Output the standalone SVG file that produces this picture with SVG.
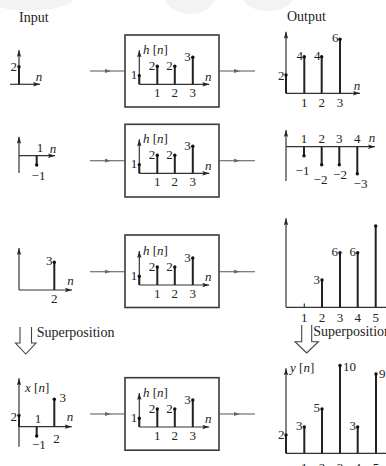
<svg xmlns="http://www.w3.org/2000/svg" xmlns:xlink="http://www.w3.org/1999/xlink" width="386" height="466" viewBox="0 0 386 466">
  <style>
    .bg { fill: #ffffff; }
    .wm { fill: #f3f3f3; }
    .ax { stroke: #333; stroke-width: 1.2; fill: none; }
    .stem { stroke: #222; stroke-width: 2; fill: none; }
    .dot { fill: #111; }
    .box { fill: none; stroke: #3a3a3a; stroke-width: 1.6; }
    .conn { stroke: #555; stroke-width: 1.1; fill: none; }
    .hollow { stroke: #444; stroke-width: 1.1; fill: #fff; }
    text { font-family: "Liberation Serif", "Times New Roman", serif; fill: #222; }
    .t { font-size: 13px; }
    .lab { font-size: 14px; }
    .it { font-style: italic; }
    .m { text-anchor: middle; }
    .e { text-anchor: end; }
  </style>
  <defs>
    <marker id="ah" viewBox="0 0 7 5" refX="7" refY="2.5" markerWidth="7" markerHeight="5" markerUnits="userSpaceOnUse" orient="auto">
      <path d="M0,0.3 L7,2.5 L0,4.7 L1.4,2.5 z" fill="#222"/>
    </marker>
    <marker id="mid" viewBox="0 0 6 5" refX="3" refY="2.5" markerWidth="6" markerHeight="5" markerUnits="userSpaceOnUse" orient="auto">
      <path d="M0,0.6 L6,2.5 L0,4.4 z" fill="#666"/>
    </marker>
    <!-- impulse response h[n] drawn inside each system box -->
    <g id="hplot">
      <line class="ax" x1="0" y1="0" x2="0" y2="-34" marker-end="url(#ah)"/>
      <line class="ax" x1="0" y1="0" x2="70" y2="0" marker-end="url(#ah)"/>
      <path class="stem" d="M0,0V-8.7 M18,0V-18 M35.5,0V-18 M53.5,0V-27"/>
      <circle class="dot" cx="0" cy="-8.7" r="1.7"/>
      <circle class="dot" cx="18" cy="-18" r="1.7"/>
      <circle class="dot" cx="35.5" cy="-18" r="1.7"/>
      <circle class="dot" cx="53.5" cy="-27" r="1.7"/>
      <text class="t e" x="-2" y="-5">1</text>
      <text class="t e" x="16" y="-14.5">2</text>
      <text class="t e" x="33.5" y="-14.5">2</text>
      <text class="t e" x="51.5" y="-23.5">3</text>
      <text class="t m" x="18" y="12.5">1</text>
      <text class="t m" x="35.5" y="12.5">2</text>
      <text class="t m" x="53.5" y="12.5">3</text>
      <text class="t m it" x="69" y="-3.8">n</text>
      <text class="t" x="3.7" y="-30.5"><tspan class="it">h</tspan> [<tspan class="it">n</tspan>]</text>
    </g>
  </defs>

  <rect class="bg" x="0" y="0" width="386" height="466"/>
  <!-- faint background marks along the top edge -->
  <ellipse class="wm" cx="30" cy="-4" rx="45" ry="15"/>
  <ellipse class="wm" cx="190" cy="-10" rx="28" ry="24"/>
  <ellipse class="wm" cx="268" cy="-2" rx="25" ry="13"/>

  <text class="lab" x="19" y="21.5">Input</text>
  <text class="lab" x="287" y="21">Output</text>

  <!-- input sequences -->
  <g id="in1">
    <line class="ax" x1="19" y1="84.3" x2="19" y2="50" marker-end="url(#ah)"/>
    <line class="ax" x1="10" y1="84.3" x2="40" y2="84.3" marker-end="url(#ah)"/>
    <path class="stem" d="M19,84.3V66.7"/>
    <circle class="dot" cx="19" cy="66.7" r="1.7"/>
    <text class="t e" x="17" y="70.5">2</text>
    <text class="t m it" x="39" y="81">n</text>
  </g>
  <g id="in2">
    <line class="ax" x1="19" y1="173" x2="19" y2="136.7" marker-end="url(#ah)"/>
    <line class="ax" x1="19" y1="155.7" x2="55" y2="155.7" marker-end="url(#ah)"/>
    <path class="stem" d="M36.7,155.7V165"/>
    <circle class="dot" cx="36.7" cy="165" r="1.7"/>
    <text class="t m" x="40" y="152">1</text>
    <text class="t m it" x="53" y="152.5">n</text>
    <text class="t m" x="38.5" y="180">−1</text>
  </g>
  <g id="in3">
    <line class="ax" x1="19" y1="290" x2="19" y2="248" marker-end="url(#ah)"/>
    <line class="ax" x1="19" y1="290" x2="72" y2="290" marker-end="url(#ah)"/>
    <path class="stem" d="M54.3,290V262.3"/>
    <circle class="dot" cx="54.3" cy="262.3" r="1.7"/>
    <text class="t e" x="52.5" y="265">3</text>
    <text class="t m it" x="70.5" y="284.5">n</text>
    <text class="t m" x="54.3" y="302.5">2</text>
  </g>
  <g id="in4">
    <line class="ax" x1="19" y1="446.7" x2="19" y2="378.3" marker-end="url(#ah)"/>
    <line class="ax" x1="19" y1="426.7" x2="71.7" y2="426.7" marker-end="url(#ah)"/>
    <path class="stem" d="M19,426.7V415.5 M36.7,426.7V436 M54.3,426.7V399.3"/>
    <circle class="dot" cx="19" cy="415.5" r="1.7"/>
    <circle class="dot" cx="36.7" cy="436" r="1.7"/>
    <circle class="dot" cx="54.3" cy="399.3" r="1.7"/>
    <text class="t" x="25" y="391.5"><tspan class="it">x</tspan> [<tspan class="it">n</tspan>]</text>
    <text class="t e" x="17" y="421">2</text>
    <text class="t" x="59.5" y="402">3</text>
    <text class="t m" x="38" y="422.5">1</text>
    <text class="t m it" x="70" y="420.5">n</text>
    <text class="t m" x="38.8" y="448.5">−1</text>
    <text class="t m" x="56.5" y="443">2</text>
  </g>

  <!-- superposition arrows -->
  <g id="sup-left">
    <path class="hollow" d="M20,327 V343 H15.5 L25.75,354 L36,343 H31.5 V327"/>
    <text class="lab" x="36.7" y="336.7">Superposition</text>
  </g>
  <g id="sup-right">
    <path class="hollow" d="M301.7,325 V341.7 H295 L306.7,353 L318.4,341.7 H311.7 V325"/>
    <text class="lab" x="313.3" y="336">Superposition</text>
  </g>

  <!-- LTI system boxes -->
  <g id="sys1">
    <rect class="box" x="125" y="35" width="94" height="72"/>
    <use xlink:href="#hplot" href="#hplot" transform="translate(139.3,84.3)"/>
  </g>
  <g id="sys2">
    <rect class="box" x="125" y="124.3" width="94" height="72.7"/>
    <use xlink:href="#hplot" href="#hplot" transform="translate(139.3,173.3)"/>
  </g>
  <g id="sys3">
    <rect class="box" x="125" y="235" width="94" height="72.5"/>
    <use xlink:href="#hplot" href="#hplot" transform="translate(139.3,285)"/>
  </g>
  <g id="sys4">
    <rect class="box" x="125" y="377.7" width="94" height="72.5"/>
    <use xlink:href="#hplot" href="#hplot" transform="translate(139.3,427)"/>
  </g>

  <!-- output sequences -->
  <g id="out1">
    <line class="ax" x1="286" y1="93.3" x2="286" y2="31.7" marker-end="url(#ah)"/>
    <line class="ax" x1="286" y1="93.3" x2="360" y2="93.3" marker-end="url(#ah)"/>
    <path class="stem" d="M286,93.3V75 M304.3,93.3V56.7 M321.7,93.3V56.7 M340,93.3V39.3"/>
    <circle class="dot" cx="286" cy="75" r="1.7"/>
    <circle class="dot" cx="304.3" cy="56.7" r="1.7"/>
    <circle class="dot" cx="321.7" cy="56.7" r="1.7"/>
    <circle class="dot" cx="340" cy="39.3" r="1.7"/>
    <text class="t e" x="284.5" y="79.5">2</text>
    <text class="t e" x="303" y="59.5">4</text>
    <text class="t e" x="320.5" y="59.5">4</text>
    <text class="t e" x="338.5" y="42">6</text>
    <text class="t m it" x="357" y="89.5">n</text>
    <text class="t m" x="304.3" y="107">1</text>
    <text class="t m" x="321.7" y="107">2</text>
    <text class="t m" x="340" y="107">3</text>
  </g>
  <g id="out2">
    <line class="ax" x1="286" y1="181" x2="286" y2="130" marker-end="url(#ah)"/>
    <line class="ax" x1="286" y1="146.7" x2="375" y2="146.7" marker-end="url(#ah)"/>
    <path class="stem" d="M304,146.7V155.7 M321.7,146.7V164.7 M339.3,146.7V164.7 M357.3,146.7V173.7"/>
    <circle class="dot" cx="304" cy="155.7" r="1.7"/>
    <circle class="dot" cx="321.7" cy="164.7" r="1.7"/>
    <circle class="dot" cx="339.3" cy="164.7" r="1.7"/>
    <circle class="dot" cx="357.3" cy="173.7" r="1.7"/>
    <text class="t m" x="304" y="143.3">1</text>
    <text class="t m" x="321.7" y="143.3">2</text>
    <text class="t m" x="339.3" y="143.3">3</text>
    <text class="t m" x="357.3" y="143.3">4</text>
    <text class="t m it" x="372" y="141.5">n</text>
    <text class="t m" x="302.5" y="175">−1</text>
    <text class="t m" x="320.5" y="184">−2</text>
    <text class="t m" x="340" y="179">−2</text>
    <text class="t m" x="360.5" y="188">−3</text>
  </g>
  <g id="out3">
    <line class="ax" x1="286" y1="307.3" x2="286" y2="218.3" marker-end="url(#ah)"/>
    <line class="ax" x1="286" y1="307.3" x2="392" y2="307.3"/>
    <path class="ax" d="M304.3,307.3V303.5"/>
    <path class="stem" d="M322,307.3V280 M340,307.3V252.7 M357.7,307.3V252.7 M375.7,307.3V226"/>
    <circle class="dot" cx="322" cy="280" r="1.7"/>
    <circle class="dot" cx="340" cy="252.7" r="1.7"/>
    <circle class="dot" cx="357.7" cy="252.7" r="1.7"/>
    <circle class="dot" cx="375.7" cy="226" r="1.7"/>
    <text class="t e" x="320" y="283.5">3</text>
    <text class="t e" x="338" y="256">6</text>
    <text class="t e" x="356" y="256">6</text>
    <text class="t m" x="304.3" y="321.5">1</text>
    <text class="t m" x="322" y="321.5">2</text>
    <text class="t m" x="340" y="321.5">3</text>
    <text class="t m" x="357.7" y="321.5">4</text>
    <text class="t m" x="375.7" y="321.5">5</text>
  </g>
  <g id="out4">
    <line class="ax" x1="286" y1="453.3" x2="286" y2="368.3" marker-end="url(#ah)"/>
    <line class="ax" x1="286" y1="453.3" x2="392" y2="453.3"/>
    <path class="stem" d="M286,453.3V435 M304.3,453.3V427 M322,453.3V409 M340,453.3V365.5 M357.7,453.3V427 M376,453.3V374"/>
    <circle class="dot" cx="286" cy="435" r="1.7"/>
    <circle class="dot" cx="304.3" cy="427" r="1.7"/>
    <circle class="dot" cx="322" cy="409" r="1.7"/>
    <circle class="dot" cx="340" cy="365.5" r="1.7"/>
    <circle class="dot" cx="357.7" cy="427" r="1.7"/>
    <circle class="dot" cx="376" cy="374" r="1.7"/>
    <text class="t" x="290" y="372"><tspan class="it">y</tspan> [<tspan class="it">n</tspan>]</text>
    <text class="t e" x="284.5" y="439">2</text>
    <text class="t e" x="302.5" y="429.5">3</text>
    <text class="t e" x="320" y="411.5">5</text>
    <text class="t" x="343" y="370.5">10</text>
    <text class="t e" x="356" y="429.5">3</text>
    <text class="t" x="379" y="378">9</text>
    <text class="t m" x="304.3" y="472">1</text>
    <text class="t m" x="322" y="472">2</text>
    <text class="t m" x="340" y="472">3</text>
    <text class="t m" x="357.7" y="472">4</text>
    <text class="t m" x="376" y="472">5</text>
  </g>

  <!-- connectors between inputs, systems and outputs -->
  <g id="connectors">
    <path class="conn" d="M90,71 H108 H125" marker-mid="url(#mid)"/>
    <path class="conn" d="M219,71 H237 H255" marker-mid="url(#mid)"/>
    <path class="conn" d="M90,160.7 H108 H125" marker-mid="url(#mid)"/>
    <path class="conn" d="M219,160.7 H237 H255" marker-mid="url(#mid)"/>
    <path class="conn" d="M90,271.7 H108 H125" marker-mid="url(#mid)"/>
    <path class="conn" d="M219,271.7 H237 H255" marker-mid="url(#mid)"/>
    <path class="conn" d="M90,414 H108 H125" marker-mid="url(#mid)"/>
    <path class="conn" d="M219,414 H237 H255" marker-mid="url(#mid)"/>
  </g>
</svg>
